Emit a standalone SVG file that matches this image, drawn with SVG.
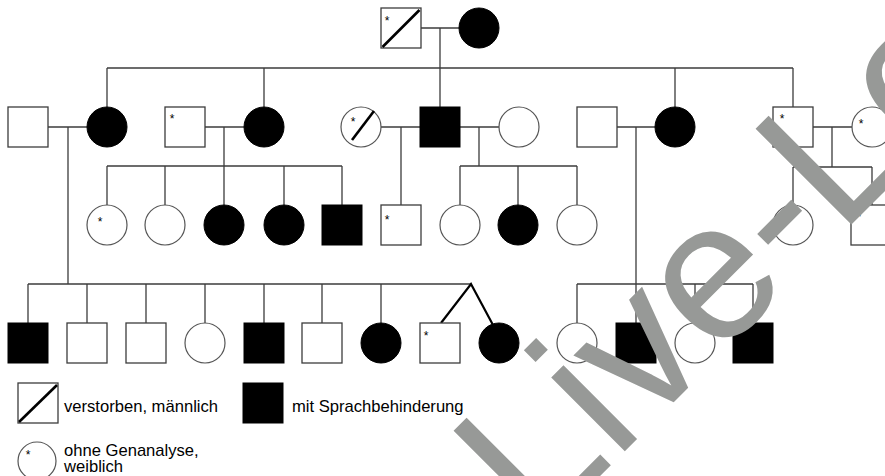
<svg xmlns="http://www.w3.org/2000/svg" width="885" height="476" viewBox="0 0 885 476">
<style>
.ln{stroke:#3c3c3c;stroke-width:1.3;fill:none}
.w{fill:#fff;stroke:#3c3c3c;stroke-width:1.3}
.c{fill:#fff;stroke:#555;stroke-width:1.2}
.a{fill:#000;stroke:#000;stroke-width:1}
.sl{stroke:#000;stroke-width:2.6}
.tw{stroke:#000;stroke-width:2.2;fill:none}
.st{font-family:"Liberation Sans",Arial,sans-serif;font-size:12px;text-anchor:middle;fill:#000}
.lg{font-family:"Liberation Sans",Arial,sans-serif;font-size:16.6px;fill:#000}
.wm{font-family:"Liberation Sans",Arial,sans-serif;font-size:197px;fill:#979997}
</style>
<rect width="885" height="476" fill="#fff"/>
<g id="connectors" class="ln">
<path d="M421 28H459M440 28V68M107 68H793M107 68V107M264 68V107M440 68V107M675 68V107M793 68V107"/>
<path d="M48 127H87M68 127V284M205 127H244M224 127V166M107 166H342M107 166V205M165 166V205M224 166V205M284 166V205M342 166V205"/>
<path d="M381 127H420M401 127V205M460 127H499M479 127V166M460 166H577M460 166V205M518 166V205M577 166V205"/>
<path d="M617 127H655M636 127V323M813 127H852M832 127V167M793 167H872M793 167V205M872 167V205"/>
<path d="M28 284H471M28 284V323M87 284V323M146 284V323M205 284V323M264 284V323M322 284V323M381 284V323"/>
<path d="M577 284H753M577 284V323M695 284V323M753 284V323"/>
<path class="tw" d="M441 323L471 284L493 325"/>
</g>
<g id="I-1"><rect class="w" x="381" y="8" width="40" height="40"/><line class="sl" x1="382.5" y1="47" x2="419.5" y2="10"/><text class="st" x="387" y="25">*</text></g>
<g id="I-2"><circle class="a" cx="479" cy="28" r="20"/></g>
<g id="II-1"><rect class="w" x="8" y="107" width="40" height="40"/></g>
<g id="II-2"><circle class="a" cx="107" cy="127" r="20"/></g>
<g id="II-3"><rect class="w" x="165" y="107" width="40" height="40"/><text class="st" x="172" y="123">*</text></g>
<g id="II-4"><circle class="a" cx="264" cy="127" r="20"/></g>
<g id="II-5"><circle class="c" cx="361" cy="127" r="20"/><line class="sl" x1="352" y1="140" x2="374" y2="111"/><text class="st" x="353" y="126">*</text></g>
<g id="II-6"><rect class="a" x="420" y="107" width="40" height="40"/></g>
<g id="II-7"><circle class="c" cx="519" cy="127" r="20"/></g>
<g id="II-8"><rect class="w" x="577" y="107" width="40" height="40"/></g>
<g id="II-9"><circle class="a" cx="675" cy="127" r="20"/></g>
<g id="II-10"><rect class="w" x="773" y="107" width="40" height="40"/><text class="st" x="782" y="123">*</text></g>
<g id="II-11"><circle class="c" cx="872" cy="127" r="20"/><text class="st" x="861" y="128">*</text></g>
<g id="III-1"><circle class="c" cx="107" cy="225" r="20"/><text class="st" x="100" y="226">*</text></g>
<g id="III-2"><circle class="c" cx="165" cy="225" r="20"/></g>
<g id="III-3"><circle class="a" cx="224" cy="225" r="20"/></g>
<g id="III-4"><circle class="a" cx="284" cy="225" r="20"/></g>
<g id="III-5"><rect class="a" x="322" y="205" width="40" height="40"/></g>
<g id="III-6"><rect class="w" x="381" y="205" width="40" height="40"/><text class="st" x="387" y="224">*</text></g>
<g id="III-7"><circle class="c" cx="460" cy="225" r="20"/></g>
<g id="III-8"><circle class="a" cx="518" cy="225" r="20"/></g>
<g id="III-9"><circle class="c" cx="577" cy="225" r="20"/></g>
<g id="III-10"><circle class="c" cx="793" cy="225" r="20"/></g>
<g id="III-11"><rect class="w" x="851" y="205" width="40" height="40"/><text class="st" x="859" y="221">*</text></g>
<g id="IV-1"><rect class="a" x="8" y="323" width="40" height="40"/></g>
<g id="IV-2"><rect class="w" x="67" y="323" width="40" height="40"/></g>
<g id="IV-3"><rect class="w" x="126" y="323" width="40" height="40"/></g>
<g id="IV-4"><circle class="c" cx="205" cy="343" r="20"/></g>
<g id="IV-5"><rect class="a" x="244" y="323" width="40" height="40"/></g>
<g id="IV-6"><rect class="w" x="302" y="323" width="40" height="40"/></g>
<g id="IV-7"><circle class="a" cx="381" cy="343" r="20"/></g>
<g id="IV-8"><rect class="w" x="420" y="323" width="40" height="40"/><text class="st" x="426" y="340">*</text></g>
<g id="IV-9"><circle class="a" cx="499" cy="343" r="20"/></g>
<g id="IV-10"><circle class="c" cx="577" cy="343" r="20"/></g>
<g id="IV-11"><rect class="a" x="616" y="323" width="40" height="40"/></g>
<g id="IV-12"><circle class="c" cx="695" cy="343" r="20"/></g>
<g id="IV-13"><rect class="a" x="733" y="323" width="40" height="40"/></g>
<g id="legend">
<rect class="w" x="18" y="383" width="40" height="40"/><line class="sl" x1="19" y1="422" x2="57" y2="385"/>
<text class="lg" x="64" y="412">verstorben, männlich</text>
<rect class="a" x="243" y="383" width="40" height="40"/>
<text class="lg" x="292" y="412">mit Sprachbehinderung</text>
<circle class="c" cx="37" cy="461" r="19"/><text class="st" x="28" y="459">*</text>
<text class="lg" x="64" y="456">ohne Genanalyse,<tspan x="64" dy="16">weiblich</tspan></text>
</g>
<text id="watermark" class="wm" x="538" y="538" transform="rotate(-45 538 538)">Live-Lo</text>
</svg>
